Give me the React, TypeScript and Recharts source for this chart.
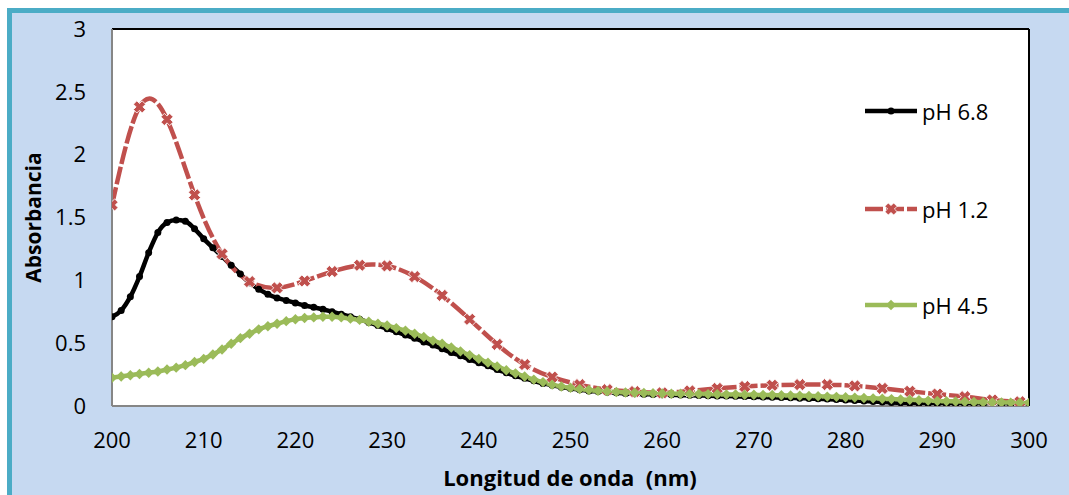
import React from "react";
import {
  CartesianGrid,
  Line,
  LineChart,
  ReferenceLine,
  XAxis,
  YAxis,
} from "recharts";

// wavelength grids (nm)
const range = (start: number, end: number, step: number) => {
  const out: number[] = [];
  for (let v = start; v <= end; v += step) out.push(v);
  return out;
};
const nmFine = range(200, 300, 1);
const nmCoarse = range(200, 299, 3);

const xTicks = [200, 210, 220, 230, 240, 250, 260, 270, 280, 290, 300];
const yTicks = [0, 0.5, 1, 1.5, 2, 2.5, 3];

// pH 6.8, one reading per nm
const absPh68 = [
  0.71, 0.76, 0.87, 1.03, 1.22, 1.38, 1.46, 1.48, 1.47, 1.41,
  1.33, 1.26, 1.19, 1.12, 1.05, 0.98, 0.93, 0.89, 0.86, 0.84,
  0.82, 0.8, 0.785, 0.77, 0.75, 0.73, 0.71, 0.69, 0.665, 0.64,
  0.615, 0.59, 0.565, 0.54, 0.51, 0.485, 0.455, 0.425, 0.4, 0.37,
  0.345, 0.32, 0.29, 0.265, 0.24, 0.22, 0.2, 0.18, 0.165, 0.15,
  0.14, 0.13, 0.12, 0.115, 0.11, 0.105, 0.1, 0.097, 0.094, 0.092,
  0.09, 0.089, 0.087, 0.086, 0.084, 0.082, 0.08, 0.079, 0.077, 0.075,
  0.073, 0.071, 0.069, 0.067, 0.065, 0.062, 0.06, 0.057, 0.055, 0.052,
  0.048, 0.044, 0.04, 0.036, 0.032, 0.028, 0.025, 0.022, 0.02, 0.018,
  0.016, 0.014, 0.013, 0.012, 0.012, 0.012, 0.012, 0.013, 0.015, 0.018,
  0.022,
];

// pH 1.2, one reading every 3 nm
const absPh12 = [
  1.6, 2.38, 2.28, 1.68, 1.21, 0.99, 0.94, 0.995, 1.07, 1.12,
  1.115, 1.03, 0.88, 0.69, 0.49, 0.33, 0.23, 0.17, 0.13, 0.115,
  0.105, 0.12, 0.14, 0.155, 0.165, 0.17, 0.17, 0.16, 0.14, 0.117,
  0.095, 0.074, 0.048, 0.034,
];

// pH 4.5, one reading per nm
const absPh45 = [
  0.225, 0.235, 0.245, 0.255, 0.265, 0.275, 0.29, 0.305, 0.325, 0.35,
  0.375, 0.41, 0.45, 0.495, 0.54, 0.575, 0.61, 0.635, 0.655, 0.675,
  0.69, 0.7, 0.705, 0.71, 0.71, 0.705, 0.695, 0.685, 0.67, 0.655,
  0.64, 0.62, 0.6, 0.575, 0.55, 0.52, 0.495, 0.465, 0.435, 0.405,
  0.375, 0.345, 0.315, 0.285, 0.26, 0.235, 0.21, 0.19, 0.17, 0.155,
  0.145, 0.135, 0.127, 0.12, 0.116, 0.112, 0.108, 0.105, 0.103, 0.101,
  0.099, 0.098, 0.097, 0.096, 0.095, 0.094, 0.093, 0.092, 0.091, 0.09,
  0.089, 0.088, 0.087, 0.085, 0.084, 0.082, 0.08, 0.078, 0.075, 0.073,
  0.07, 0.067, 0.064, 0.061, 0.058, 0.055, 0.052, 0.049, 0.046, 0.043,
  0.04, 0.038, 0.036, 0.034, 0.032, 0.03, 0.029, 0.028, 0.027, 0.026,
  0.025,
];

const toPoints = (xs: number[], ys: number[]) =>
  xs.map((x, i) => ({ x, y: ys[i] }));

const BLACK = "#000000";
const RED = "#c0504d";
const GREEN = "#9bbb59";
const FONT = "'Open Sans', sans-serif";

// chunky "x" marker
const crossPath = (() => {
  const a = 6.2;
  const t = 2.4;
  const pts = [
    [-t, -a], [t, -a], [t, -t], [a, -t], [a, t], [t, t],
    [t, a], [-t, a], [-t, t], [-a, t], [-a, -t], [-t, -t],
  ];
  return "M" + pts.map((p) => p.join(",")).join("L") + "Z";
})();

const RoundDot = (p: any) =>
  p.cx == null ? null : (
    <circle key={p.index} cx={p.cx} cy={p.cy} r={3.5} fill={BLACK} />
  );

const CrossDot = (p: any) =>
  p.cx == null ? null : (
    <path
      key={p.index}
      d={crossPath}
      transform={`translate(${p.cx},${p.cy}) rotate(45)`}
      fill={RED}
      stroke="#fff"
      strokeWidth={0.8}
    />
  );

const DiamondDot = (p: any) =>
  p.cx == null ? null : (
    <path
      key={p.index}
      d="M0,-5.2L5.2,0L0,5.2L-5.2,0Z"
      transform={`translate(${p.cx},${p.cy})`}
      fill={GREEN}
    />
  );

const YTitle = (props: any) => {
  const vb = props && props.viewBox;
  const cy = vb && vb.height ? vb.y + vb.height / 2 : 204.5;
  return (
    <text
      x={21}
      y={cy}
      transform={`rotate(-90, 21, ${cy})`}
      textAnchor="middle"
      dominantBaseline="central"
      fontFamily={FONT}
      fontSize={21}
      fontWeight={700}
      fill="#000"
    >
      Absorbancia
    </text>
  );
};

const XTitle = () => (
  <text
    x={558}
    y={473}
    textAnchor="middle"
    fontFamily={FONT}
    fontSize={22}
    fontWeight={700}
    fill="#000"
    style={{ whiteSpace: "pre" }}
  >
    Longitud de onda  (nm)
  </text>
);

const legendItems = [
  { name: "pH 6.8", color: BLACK, dash: undefined, marker: "dot", top: 98 },
  { name: "pH 1.2", color: RED, dash: "18 3", marker: "cross", top: 196 },
  { name: "pH 4.5", color: GREEN, dash: undefined, marker: "diamond", top: 292 },
];

function LegendBox() {
  return (
    <>
      {legendItems.map((it) => (
        <div
          key={it.name}
          style={{
            position: "absolute",
            left: 853,
            top: it.top - 16,
            height: 32,
            display: "flex",
            alignItems: "center",
            fontFamily: FONT,
            fontSize: 22,
            color: "#000",
          }}
        >
          <svg width={52} height={32} style={{ display: "block" }}>
            <line
              x1={0}
              x2={52}
              y1={16}
              y2={16}
              stroke={it.color}
              strokeWidth={4.5}
              strokeDasharray={it.dash}
            />
            {it.marker === "dot" && <RoundDot cx={26} cy={16} />}
            {it.marker === "cross" && <CrossDot cx={26} cy={16} />}
            {it.marker === "diamond" && <DiamondDot cx={26} cy={16} />}
          </svg>
          <span style={{ marginLeft: 5, lineHeight: "32px" }}>{it.name}</span>
        </div>
      ))}
    </>
  );
}

export default function App() {
  const tickStyle = { fill: "#000", fontSize: 22, fontFamily: FONT };

  return (
    <div
      style={{
        position: "fixed",
        left: 0,
        top: 0,
        width: 1069,
        height: 495,
        overflow: "hidden",
        background: "#fff",
      }}
    >
      <div
        style={{
          position: "absolute",
          left: 7,
          top: 8,
          width: 1090,
          height: 510,
          boxSizing: "border-box",
          border: "5px solid #4bacc6",
          background: "#c6d9f1",
        }}
      >
        <LineChart
          width={1050}
          height={482}
          margin={{ top: 16, right: 33, bottom: 0, left: 0 }}
        >
          <CartesianGrid
            horizontal={false}
            vertical={false}
            fill="#ffffff"
          />
          <XAxis
            dataKey="x"
            type="number"
            domain={[200, 300]}
            ticks={xTicks}
            allowDataOverflow
            height={89}
            tickSize={0}
            tickMargin={26}
            tickLine={false}
            axisLine={{ stroke: "#868686", strokeWidth: 2 }}
            tick={tickStyle}
            label={XTitle}
          />
          <YAxis
            type="number"
            domain={[0, 3]}
            ticks={yTicks}
            allowDataOverflow
            width={100}
            tickSize={0}
            tickMargin={26}
            tickLine={false}
            axisLine={{ stroke: "#868686", strokeWidth: 2 }}
            tick={tickStyle}
            label={YTitle}
          />
          <ReferenceLine y={3} stroke="#000" strokeWidth={2} />
          <ReferenceLine x={300} stroke="#000" strokeWidth={2} />
          <Line
            data={toPoints(nmFine, absPh68)}
            dataKey="y"
            name="pH 6.8"
            type="monotone"
            stroke={BLACK}
            strokeWidth={4.5}
            dot={RoundDot}
            activeDot={false}
            isAnimationActive={false}
          />
          <Line
            data={toPoints(nmCoarse, absPh12)}
            dataKey="y"
            name="pH 1.2"
            type="natural"
            stroke={RED}
            strokeWidth={4.5}
            strokeDasharray="18 3"
            dot={CrossDot}
            activeDot={false}
            isAnimationActive={false}
          />
          <Line
            data={toPoints(nmFine, absPh45)}
            dataKey="y"
            name="pH 4.5"
            type="monotone"
            stroke={GREEN}
            strokeWidth={4.5}
            dot={DiamondDot}
            activeDot={false}
            isAnimationActive={false}
          />
        </LineChart>
        <LegendBox />
      </div>
    </div>
  );
}
